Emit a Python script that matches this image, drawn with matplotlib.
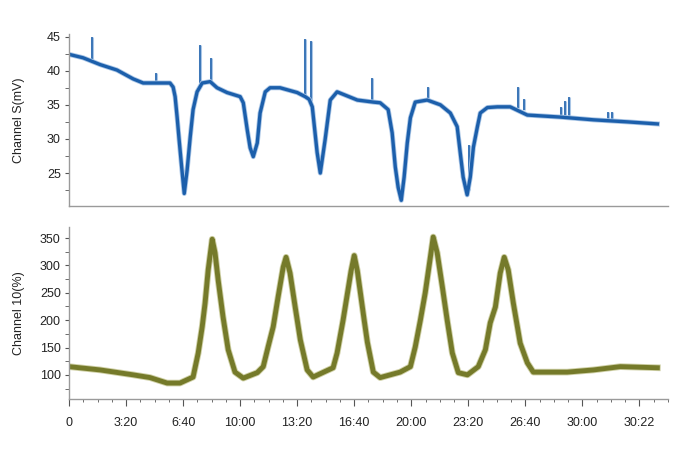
import matplotlib
matplotlib.use("Agg")
import matplotlib.pyplot as plt
from matplotlib.ticker import FixedLocator, MultipleLocator

plt.rcParams["font.family"] = ["Liberation Sans", "DejaVu Sans"]
plt.rcParams["font.size"] = 9

# time in seconds
s_time = [0, 49, 109, 168, 225, 260, 319, 354, 365, 372,
          379, 386, 396, 404, 414, 425, 435, 449, 467, 495,
          519, 554, 600, 611, 625, 635, 646, 660, 670, 688,
          705, 740, 800, 828, 842, 853, 870, 881, 898, 916,
          940, 1011, 1067, 1091, 1119, 1133, 1144, 1154, 1165, 1175,
          1186, 1197, 1214, 1256, 1302, 1337, 1361, 1372, 1382, 1396,
          1407, 1418, 1432, 1442, 1467, 1502, 1547, 1607, 1723, 1839,
          1958, 2063]
s_mv = [42.4, 41.9, 40.9, 40.1, 38.8, 38.2, 38.2, 38.2, 37.6, 36.2,
        33.2, 29.9, 25.4, 22.0, 25.4, 30.3, 34.3, 36.9, 38.2, 38.4,
        37.5, 36.8, 36.2, 35.3, 31.3, 28.7, 27.4, 29.4, 33.8, 36.9,
        37.5, 37.5, 36.8, 36.2, 35.8, 34.7, 28.0, 25.0, 29.9, 35.7,
        36.9, 35.7, 35.4, 35.3, 34.3, 30.9, 25.9, 22.9, 21.0, 24.4,
        29.4, 33.1, 35.4, 35.7, 35.0, 33.8, 31.8, 27.9, 24.4, 21.8,
        24.4, 28.8, 31.8, 33.8, 34.6, 34.7, 34.7, 33.5, 33.2, 32.8,
        32.5, 32.2]

# short artefact spikes on channel S
spike_t = [81, 305, 460, 498, 828, 849, 1063, 1260, 1404, 1575, 1596,
           1726, 1740, 1754, 1891, 1905]
spike_lo = [41.5, 38.2, 38.0, 38.5, 36.0, 35.5, 35.4, 35.6, 22.5, 34.6,
            34.2, 33.3, 33.2, 33.1, 32.9, 32.9]
spike_hi = [45.0, 39.7, 43.7, 41.9, 44.7, 44.3, 39.0, 37.6, 29.1, 37.6,
            35.9, 34.7, 35.5, 36.2, 34.0, 34.0]

c10_time = [0, 109, 225, 284, 344, 389, 435, 453, 467, 477,
            488, 502, 512, 523, 540, 558, 582, 611, 660, 681,
            698, 716, 733, 751, 761, 775, 793, 811, 835, 856,
            926, 940, 961, 989, 1000, 1011, 1035, 1046, 1067, 1091,
            1161, 1197, 1214, 1232, 1249, 1267, 1277, 1291, 1309, 1326,
            1344, 1365, 1397, 1435, 1460, 1477, 1495, 1512, 1526, 1540,
            1558, 1582, 1607, 1628, 1653, 1747, 1839, 1933, 2063]
c10_pct = [115, 109, 100, 95, 85, 85, 96, 140, 188, 231,
           292, 348, 323, 273, 206, 146, 105, 94, 104, 115,
           151, 188, 242, 297, 315, 286, 224, 164, 109, 96,
           113, 140, 200, 290, 318, 290, 200, 160, 105, 95,
           105, 115, 151, 200, 250, 315, 352, 323, 261, 200,
           140, 104, 100, 115, 146, 195, 224, 286, 315, 292,
           231, 158, 122, 105, 105, 105, 109, 115, 113]

x_ticks = [0, 200, 400, 600, 800, 1000, 1200, 1400, 1600, 1800, 2000]
x_labels = ["0", "3:20", "6:40", "10:00", "13:20", "16:40", "20:00",
            "23:20", "26:40", "30:00", "30:22"]

blue, blue_lt = "#1c5fab", "#aac6e6"
olive, olive_lt = "#757a2a", "#cfd0a6"
grey = "#9a9a9a"

fig = plt.figure(figsize=(6.98, 4.58), dpi=100)
ax1 = fig.add_axes([0.0989, 0.550, 0.858, 0.376])
ax2 = fig.add_axes([0.0989, 0.129, 0.858, 0.375])

for ax in (ax1, ax2):
    for side in ("top", "right"):
        ax.spines[side].set_visible(False)
    for side in ("left", "bottom"):
        ax.spines[side].set_color(grey)
        ax.spines[side].set_linewidth(1.0)
    ax.set_xlim(0, 2100)
    ax.tick_params(axis="y", which="both", length=3, color="#555555",
                   labelcolor="#222222", pad=3)

# top panel
ax1.vlines(spike_t, spike_lo, spike_hi, color=blue_lt, lw=2.2)
ax1.vlines(spike_t, spike_lo, spike_hi, color=blue, lw=1.1)
ax1.plot(s_time, s_mv, color=blue_lt, lw=3.6, solid_joinstyle="round")
ax1.plot(s_time, s_mv, color=blue, lw=2.4, solid_joinstyle="round")
ax1.set_ylim(20.15, 45.4)
ax1.yaxis.set_major_locator(FixedLocator([25, 30, 35, 40, 45]))
ax1.yaxis.set_minor_locator(FixedLocator([22.5, 27.5, 32.5, 37.5, 42.5]))
ax1.tick_params(axis="x", which="both", bottom=False, labelbottom=False)
ax1.set_ylabel("Channel S(mV)", color="#222222")
ax1.yaxis.set_label_coords(-0.073, 0.5)

# bottom panel
ax2.plot(c10_time, c10_pct, color=olive_lt, lw=4.8, solid_joinstyle="round")
ax2.plot(c10_time, c10_pct, color=olive, lw=3.5, solid_joinstyle="round")
ax2.set_ylim(56, 370)
ax2.yaxis.set_major_locator(FixedLocator([100, 150, 200, 250, 300, 350]))
ax2.yaxis.set_minor_locator(FixedLocator([75, 125, 175, 225, 275, 325]))
ax2.set_ylabel("Channel 10(%)", color="#222222")
ax2.yaxis.set_label_coords(-0.073, 0.5)
ax2.xaxis.set_major_locator(FixedLocator(x_ticks))
ax2.set_xticklabels(x_labels)
ax2.xaxis.set_minor_locator(MultipleLocator(50))
ax2.tick_params(axis="x", which="major", length=5, color="#555555",
                labelcolor="#222222", pad=8)
ax2.tick_params(axis="x", which="minor", length=2.5, color="#555555")

fig.savefig("out.png", dpi=100)
